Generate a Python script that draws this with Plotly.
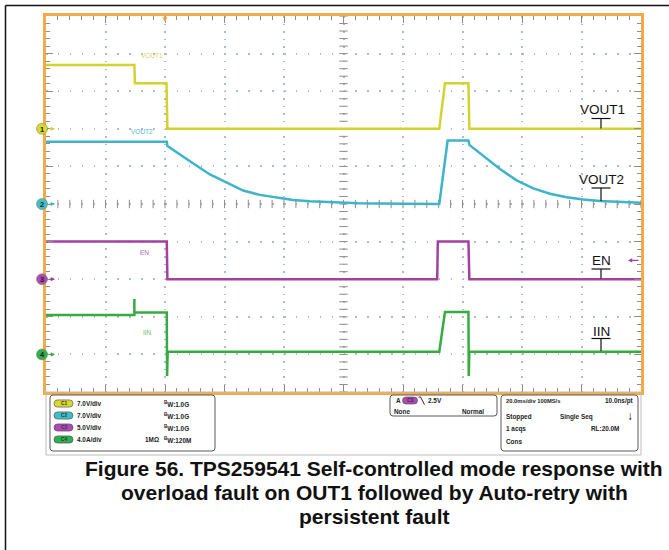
import numpy as np
import plotly.graph_objects as go

W, H = 669, 550

# Acquisition record: time in ms (trigger at 0), 20 ms/div
t_vout1 = [-40, -10.3, -10.1, 0.5, 0.8, 92.2, 94.1, 102.0, 102.3, 160]
v_vout1 = [11.9, 11.9, 8.5, 8.5, 0.0, 0.0, 8.5, 8.5, 0.0, 0.0]

t_vout2 = [-40, 0.6, 0.8, 3.9, 9.4, 15.1, 20.8, 26.3, 31.9, 37.5, 43.0, 48.7, 54.5, 65, 80,
           92.2, 95.0, 102.0, 102.3, 107.0, 112.6, 118.2, 123.8, 129.4, 135.0, 140.6, 146.2,
           151.8, 160]
v_vout2 = [11.6, 11.6, 10.8, 9.7, 7.6, 5.5, 3.9, 2.5, 1.7, 1.25, 0.74, 0.5, 0.37, 0.15, 0.05,
           0.0, 11.8, 11.8, 11.0, 9.0, 6.5, 4.4, 2.9, 1.9, 1.25, 0.85, 0.55,
           0.4, 0.25]

t_en = [-40, 0.6, 0.8, 91.5, 91.7, 102.0, 102.3, 160]
v_en = [5, 5, 0, 0, 5, 5, 0, 0]

t_iin = [-40, -10.3, -10.3, -10.3, 0.6, 0.7, 0.9, 92.2, 94.1, 102.0, 102.1, 102.3, 160]
v_iin = [4.2, 4.2, 5.9, 4.45, 4.45, -2.3, 0.29, 0.29, 4.5, 4.5, -2.3, 0.29, 0.29]

# Channel settings: name, units/div, ground position (div from bottom), colour
ch_names = ["VOUT1", "VOUT2", "EN", "IIN"]
ch_scale = [7.0, 7.0, 5.0, 4.0]
ch_pos = [7, 5, 3, 1]
ch_color = ["#d4d22e", "#3db4c8", "#a4409f", "#36ab42"]
ch_badge = ["#d8d830", "#3fc0c8", "#b048b8", "#2eb050"]
ch_div = ["7.0V/div", "7.0V/div", "5.0V/div", "4.0A/div"]
ch_bw = ["1.0G", "1.0G", "1.0G", "120M"]

caption_lines = ["Figure 56. TPS259541 Self-controlled mode response with",
                 "overload fault on OUT1 followed by Auto-retry with",
                 "persistent fault"]

t_range = [-40, 160]
n_div_y = 10

# screen geometry (pixels)
GX0, GX1, GY0, GY1 = 46, 641, 16, 392
DIVPX = (GY1 - GY0) / n_div_y

fig = go.Figure()

# graticule centre-line ticks
fig.add_trace(go.Scatter(x=np.arange(t_range[0], t_range[1] + 0.01, 4), y=[5] * 51,
                         mode="markers", hoverinfo="skip", showlegend=False,
                         marker=dict(symbol="line-ns", size=6, line=dict(color="#8c8c8c", width=1))))
fig.add_trace(go.Scatter(x=[60] * 51, y=np.arange(0, 10.01, 0.2),
                         mode="markers", hoverinfo="skip", showlegend=False,
                         marker=dict(symbol="line-ew", size=6, line=dict(color="#8c8c8c", width=1))))

series = [(t_vout1, v_vout1), (t_vout2, v_vout2), (t_en, v_en), (t_iin, v_iin)]
for i, (tt, vv) in enumerate(series):
    fig.add_trace(go.Scatter(x=tt, y=vv, mode="lines", yaxis="y%d" % (i + 2),
                             line=dict(color=ch_color[i], width=2.5),
                             hoverinfo="skip", showlegend=False, name=ch_names[i]))

# pixel-space overlay for the panel furniture
fig.add_trace(go.Scatter(x=[], y=[], xaxis="x6", yaxis="y6", showlegend=False))

layout = dict(
    width=W, height=H, margin=dict(l=0, r=0, t=0, b=0),
    paper_bgcolor="white", plot_bgcolor="rgba(0,0,0,0)",
    font=dict(family="Liberation Sans, Arial, sans-serif", color="#222"),
    xaxis=dict(domain=[GX0 / W, GX1 / W], range=t_range, tick0=-40, dtick=20,
               showgrid=True, gridcolor="#aebbc8", gridwidth=1.5, griddash="1.5px,6px",
               ticks="inside", ticklen=7, tickcolor="#8c8c8c", tickwidth=1,
               minor=dict(tick0=-40, dtick=4, ticks="inside", ticklen=4,
                          tickcolor="#8c8c8c", showgrid=False),
               showline=True, linecolor="#f1ac48", linewidth=3, mirror="ticks",
               showticklabels=False, zeroline=False, fixedrange=True),
    yaxis=dict(domain=[1 - GY1 / H, 1 - GY0 / H], range=[0, n_div_y], tick0=0, dtick=1,
               showgrid=True, gridcolor="#aebbc8", gridwidth=1.5, griddash="1.5px,10.4px",
               ticks="inside", ticklen=7, tickcolor="#8c8c8c", tickwidth=1,
               minor=dict(tick0=0, dtick=0.2, ticks="inside", ticklen=4,
                          tickcolor="#8c8c8c", showgrid=False),
               showline=True, linecolor="#f1ac48", linewidth=3, mirror="ticks",
               showticklabels=False, zeroline=False, fixedrange=True),
    xaxis6=dict(domain=[0, 1], range=[0, W], visible=False, anchor="y6", fixedrange=True),
    yaxis6=dict(domain=[0, 1], range=[H, 0], visible=False, anchor="x6", fixedrange=True),
)
for i in range(4):
    s, p = ch_scale[i], ch_pos[i]
    layout["yaxis%d" % (i + 2)] = dict(overlaying="y", anchor="x", visible=False,
                                       range=[-p * s, (n_div_y - p) * s], fixedrange=True)
fig.update_layout(**layout)

shapes = []
annots = []


def px_line(x0, y0, x1, y1, color="#111", width=1.2):
    shapes.append(dict(type="line", xref="x6", yref="y6", x0=x0, y0=y0, x1=x1, y1=y1,
                       line=dict(color=color, width=width)))


def rrect(x0, y0, x1, y1, r, line="#555", fill="rgba(0,0,0,0)", width=1):
    p = (f"M{x0 + r},{y0} L{x1 - r},{y0} Q{x1},{y0} {x1},{y0 + r} L{x1},{y1 - r} "
         f"Q{x1},{y1} {x1 - r},{y1} L{x0 + r},{y1} Q{x0},{y1} {x0},{y1 - r} "
         f"L{x0},{y0 + r} Q{x0},{y0} {x0 + r},{y0} Z")
    shapes.append(dict(type="path", xref="x6", yref="y6", path=p, fillcolor=fill,
                       line=dict(color=line, width=width)))


def text(x, y, s, size=6.4, color="#222", anchor="left", bold=True, family=None):
    f = dict(size=size, color=color, weight="bold" if bold else "normal")
    if family:
        f["family"] = family
    annots.append(dict(xref="x6", yref="y6", x=x, y=y, text=s, showarrow=False,
                       xanchor=anchor, yanchor="middle", font=f))


# page frame
px_line(5.5, 5.5, W, 5.5, "#111", 1.5)
px_line(5.5, 5.5, 5.5, H, "#111", 1.5)

# channel ground markers on the left edge
for i in range(4):
    yc = GY1 - ch_pos[i] * DIVPX
    shapes.append(dict(type="circle", xref="x6", yref="y6", x0=36.5, x1=47.5,
                       y0=yc - 5.5, y1=yc + 5.5, fillcolor=ch_badge[i],
                       line=dict(color="#8a8a5a", width=0.6)))
    text(42, yc + 0.5, str(i + 1), size=7.5, color="#222", anchor="center")
    annots.append(dict(xref="x6", yref="y6", x=55, y=yc, ax=48, ay=yc, axref="x6", ayref="y6",
                       text="", showarrow=True, arrowhead=2, arrowsize=0.7, arrowwidth=1.2,
                       arrowcolor=ch_color[i]))

# trigger position and trigger level indicators
annots.append(dict(xref="x", yref="y6", x=0, y=GY0 + 3.5, text="▼", showarrow=False,
                   font=dict(size=8, color="#f1a035"), xanchor="center", yanchor="middle"))
annots.append(dict(xref="x6", yref="y4", x=628, y=2.5, ax=640, ay=2.5, axref="x6", ayref="y4",
                   text="", showarrow=True, arrowhead=2, arrowsize=0.7, arrowwidth=1.2,
                   arrowcolor=ch_color[2]))

# faint on-screen trace labels
faint = ["#d9d36a", "#55b9d0", "#b068b0", "#6cc06c"]
for i, (x, y) in enumerate([(152, 55), (142, 131), (144, 252), (147, 332)]):
    text(x, y, ch_names[i], size=6.5, color=faint[i], anchor="center", bold=False)

# large trace labels with T markers
for name, tx, ty, bar_y, stem_end in [("VOUT1", 602, 109.5, 118.5, 128.5),
                                      ("VOUT2", 601, 179.5, 188, 201),
                                      ("EN", 601, 260.5, 269, 278.5),
                                      ("IIN", 601, 331, 338.5, 351)]:
    text(tx, ty, name, size=13.5, color="#111", anchor="center", bold=False)
    px_line(591.5, bar_y, 610.5, bar_y, "#111", 1.2)
    px_line(601, bar_y, 601, stem_end, "#111", 1.2)

# readout panel
shapes.append(dict(type="rect", xref="x6", yref="y6", x0=GX0, y0=GY1, x1=GX1, y1=455,
                   line=dict(color="#bdbdbd", width=1)))
rrect(50, 395, 215, 451, 3, line="#5a5a5a")
rrect(390, 395, 497, 416, 3, line="#5a5a5a")
rrect(501, 395, 638, 451, 3, line="#5a5a5a")

rows = [403.5, 415.5, 427.5, 439.5]
for i in range(4):
    y = rows[i]
    rrect(54, y - 3.6, 73, y + 3.6, 3.6, line="#444", fill=ch_badge[i], width=0.6)
    text(63.5, y, "C%d" % (i + 1), size=4.8, color="#333", anchor="center")
    text(75, y, ch_div[i])
    text(162, y, "<sup>B</sup>W:" + ch_bw[i])
text(143, rows[3], "1MΩ")

# trigger readout
text(394, 400.5, "A")
rrect(402.5, 397, 417.5, 404, 3.5, line="#444", fill=ch_badge[2], width=0.6)
text(410, 400.5, "C3", size=4.8, color="#333", anchor="center")
shapes.append(dict(type="path", xref="x6", yref="y6", path="M418.5,397 L420.5,397 L424.5,404.5",
                   line=dict(color="#222", width=1)))
text(426, 400.5, "2.5V")
text(392, 411.5, "None")
text(486, 411.5, "Normal", anchor="right")

# timebase readout
text(504, 400.5, "20.0ms/div 100MS/s", size=5.8)
text(636, 400.5, "10.0ns/pt", anchor="right")
text(504, 416.5, "Stopped")
text(558, 416.5, "Single Seq")
text(630, 415.5, "↓", size=12, color="#111", anchor="center")
text(621, 428.5, "RL:20.0M", anchor="right")
text(504, 428.5, "1 acqs")
text(504, 441, "Cons")

# caption
for line, y in zip(caption_lines, [468, 492, 516]):
    annots.append(dict(xref="x6", yref="y6", x=374, y=y, text=line,
                       showarrow=False, xanchor="center", yanchor="middle",
                       font=dict(size=21, color="#111", weight="bold",
                                 family="Liberation Sans, Arial, sans-serif")))

fig.update_layout(shapes=shapes, annotations=annots)
fig.write_html("out.html")
